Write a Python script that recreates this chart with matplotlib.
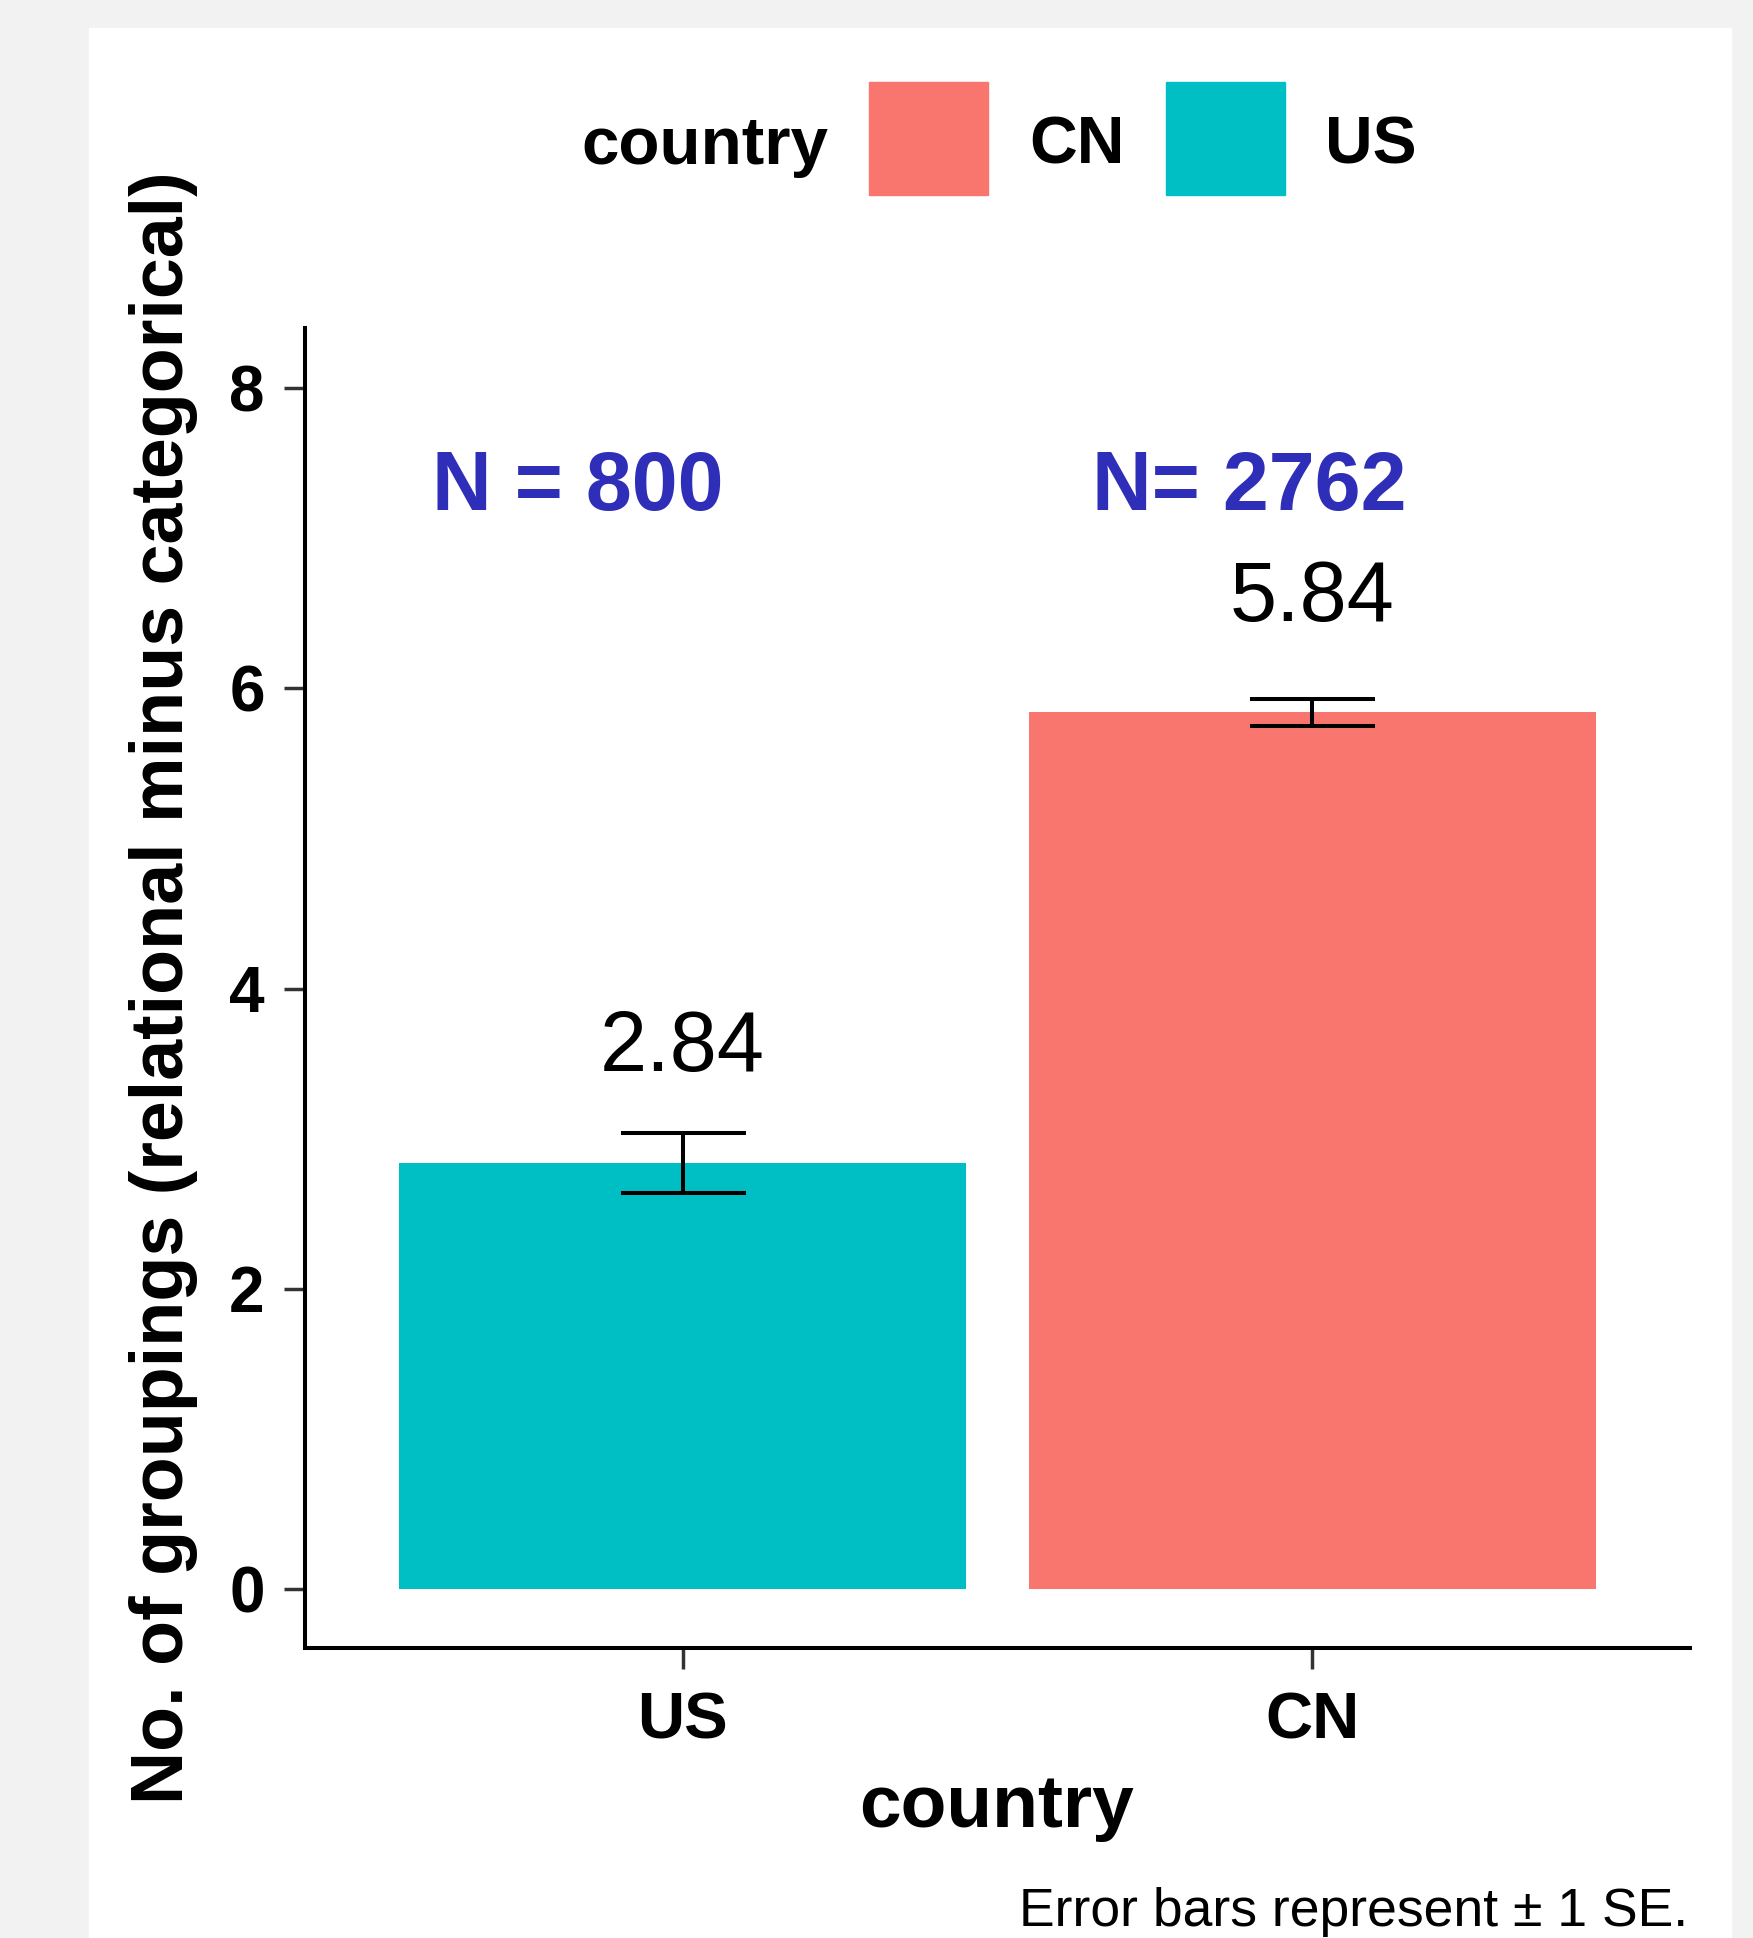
import matplotlib.pyplot as plt
from matplotlib.patches import Rectangle

# ----------------------------
# Data
# ----------------------------
countries = ["US", "CN"]
means = [2.84, 5.84]
se = [0.20, 0.09]
n_labels = ["N = 800", "N= 2762"]
n_label_x = [0.833, 1.90]
legend_order = ["CN", "US"]
colors = {"CN": "#F8766D", "US": "#00BFC4"}

plt.rcParams["font.family"] = ["Liberation Sans", "DejaVu Sans"]

W, H = 1753, 1938
fig = plt.figure(figsize=(W / 100, H / 100), dpi=100, facecolor="#F2F2F2")

# white plot panel on grey page
fig.patches.append(Rectangle((89 / W, 0), (1731 - 89) / W, 1 - 28 / H,
                             transform=fig.transFigure, color="white", zorder=-5))

ax = fig.add_axes([305 / W, 1 - 1648 / H, (1690 - 305) / W, (1648 - 327.6) / H])
ax.set_facecolor("white")

# ----------------------------
# Bars + error bars
# ----------------------------
x = list(range(1, len(countries) + 1))
ax.bar(x, means, width=0.9, color=[colors[c] for c in countries], zorder=2)
ax.errorbar(x, means, yerr=se, fmt="none", ecolor="black",
            elinewidth=2.9, capsize=45, capthick=2.9, zorder=3)

# value labels above bars
for xi, m in zip(x, means):
    ax.text(xi, m + 0.755, f"{m:.2f}", ha="center", va="center",
            fontsize=61, color="black")

# sample size labels
for xi, lab in zip(n_label_x, n_labels):
    ax.text(xi, 7.33, lab, ha="center", va="center", fontsize=59.5,
            fontweight="bold", color="#2E2EB8")

# ----------------------------
# Axes styling
# ----------------------------
ax.set_xlim(0.4, 2.6)
ax.set_ylim(-0.39, 8.40)
ax.set_xticks(x)
ax.set_xticklabels(countries)
ax.set_yticks([0, 2, 4, 6, 8])
for s in ["top", "right"]:
    ax.spines[s].set_visible(False)
for s in ["left", "bottom"]:
    ax.spines[s].set_linewidth(2.9)
    ax.spines[s].set_color("black")
ax.tick_params(axis="both", length=15, width=2.5, color="#333333",
               labelsize=46, labelcolor="black")
ax.tick_params(axis="x", pad=16, labelsize=47)
ax.tick_params(axis="y", pad=14)
for lab in ax.get_xticklabels() + ax.get_yticklabels():
    lab.set_fontweight("bold")

# axis titles
fig.text(164 / W, 1 - 988 / H, "No. of groupings (relational minus categorical)",
         rotation=90, ha="center", va="center", fontsize=53, fontweight="bold")
fig.text(997 / W, 1 - 1827 / H, "country", ha="center", va="baseline",
         fontsize=54, fontweight="bold")

# caption
fig.text(1688 / W, 1 - 1926 / H, "Error bars represent \u00b1 1 SE.",
         ha="right", va="baseline", fontsize=38.5)

# ----------------------------
# Legend (title on the left, keys in a row)
# ----------------------------
fig.text(581 / W, 1 - 164 / H, "country", ha="left", va="baseline",
         fontsize=48.5, fontweight="bold")
key_left = [869, 1166]
text_left = [1029, 1325]
for c, kx, tx in zip(legend_order, key_left, text_left):
    fig.patches.append(Rectangle((kx / W, 1 - 195 / H), 119 / W, 113.4 / H,
                                 transform=fig.transFigure, color=colors[c]))
    fig.text(tx / W, 1 - 164 / H, c, ha="left", va="baseline",
             fontsize=47.5, fontweight="bold")

plt.savefig("out.png", dpi=100, facecolor=fig.get_facecolor())
